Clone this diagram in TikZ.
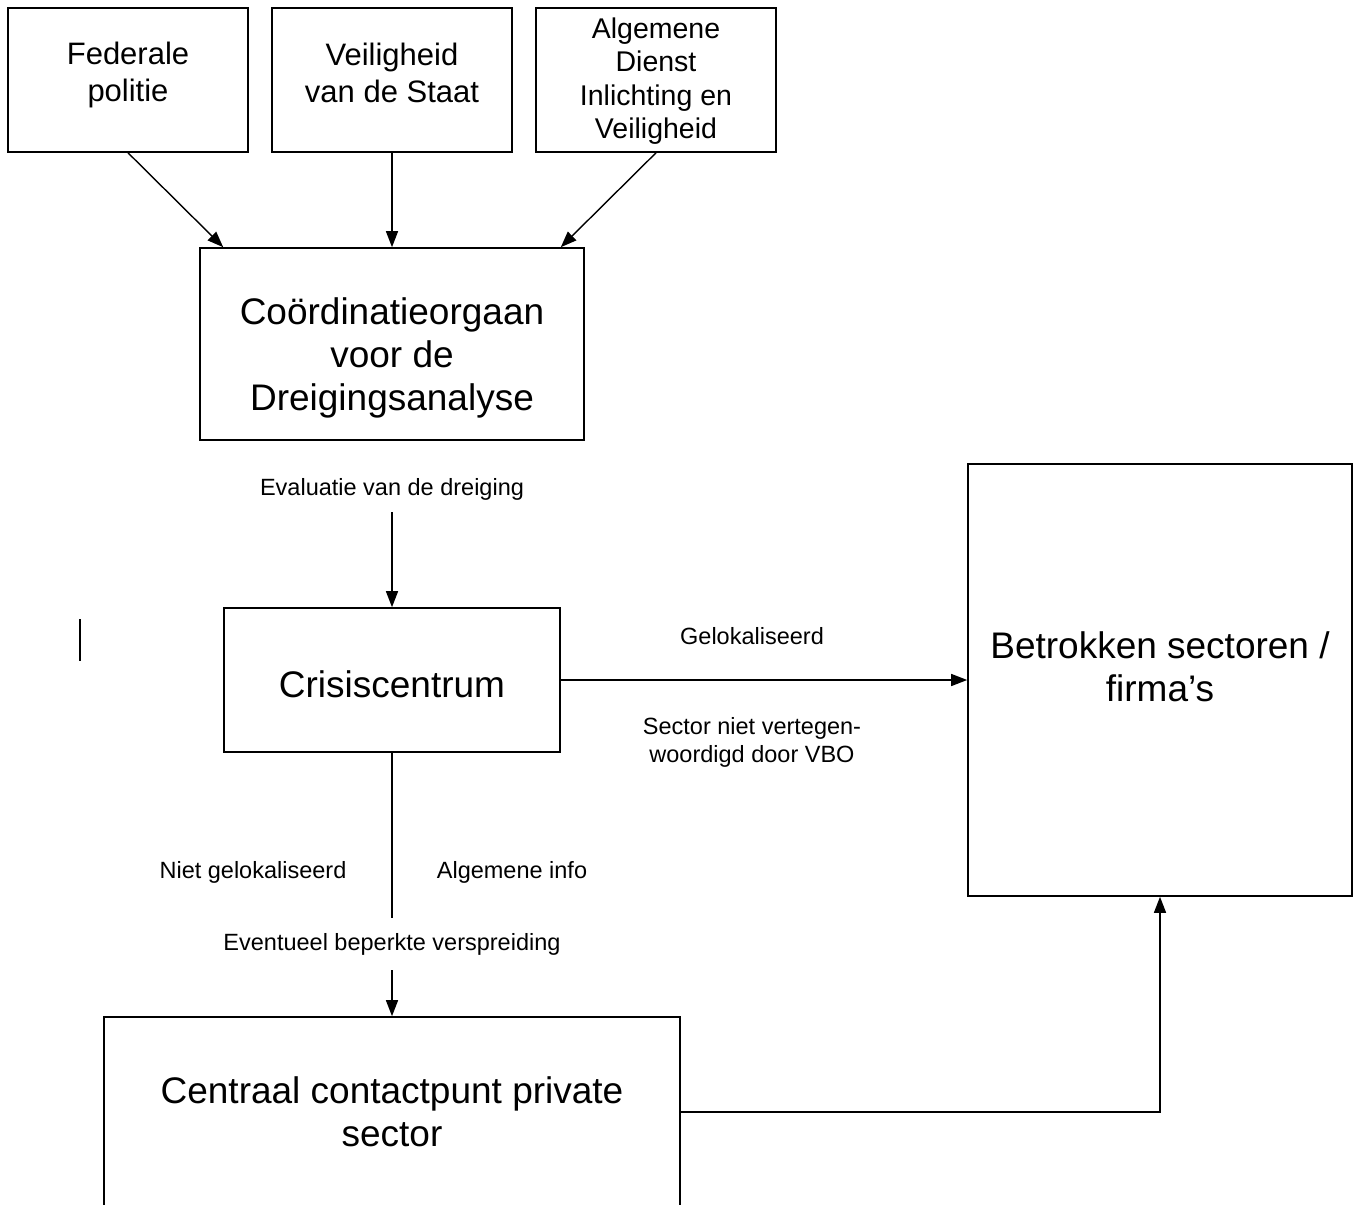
\documentclass[tikz,border=0pt]{standalone}
\usepackage{fontspec}
\setmainfont{Liberation Sans}
\usetikzlibrary{arrows.meta,calc}
\begin{document}
\begin{tikzpicture}[x=1pt,y=-1pt,
  box/.style={draw,line width=1.6pt,rectangle,inner sep=0pt},
  txt/.style={align=center,inner sep=0pt},
  bigtxt/.style={txt,font=\fontsize{37}{43}\selectfont},
  toptxt/.style={txt,font=\fontsize{31}{37}\selectfont},
  lbl/.style={txt,font=\fontsize{23.5}{28}\selectfont},
  conn/.style={line width=1.4pt},
  arr/.style={conn,-{Triangle[length=16pt,width=12pt]}}]
\useasboundingbox (0,0) rectangle (1355,1205);
\clip (0,0) rectangle (1355,1205);
% top boxes
\node[box,minimum width=240,minimum height=144] (fp) at (128,80) {};
\node[toptxt] (fpt) at (128,75) {Federale\\politie};
\node[box,minimum width=240,minimum height=144] (vs) at (392,80) {};
\node[toptxt] (vst) at (392,73) {Veiligheid\\van de Staat};
\node[box,minimum width=240,minimum height=144] (ad) at (656,80) {};
\node[txt,font=\fontsize{28.5}{33.5}\selectfont] (adt) at (656,81) {Algemene\\Dienst\\Inlichting en\\Veiligheid};
% coordination
\node[box,minimum width=384,minimum height=192] (co) at (392,344) {};
\node[bigtxt] (cot) at (392,358) {Coördinatieorgaan\\voor de\\Dreigingsanalyse};
% crisis
\node[box,minimum width=336,minimum height=144] (cr) at (392,680) {};
\node[bigtxt] (crt) at (392,684) {Crisiscentrum};
% betrokken
\node[box,minimum width=384,minimum height=432] (bs) at (1160,680) {};
\node[bigtxt] (bst) at (1160,667) {Betrokken sectoren /\\firma’s};
% centraal
\node[box,minimum width=576,minimum height=190,bigtxt] (cc) at (392,1112) {Centraal contactpunt private\\sector};
% top arrows
\coordinate (cofp) at ($(co.north west)+(24,0)$);
\coordinate (coad) at ($(co.north east)+(-24,0)$);
\draw[arr] (fp.south) -- (cofp);
\draw[arr] (vs.south) -- (co.north);
\draw[arr] (ad.south) -- (coad);
% evaluation
\node[lbl] (ev) at (392,489) {Evaluatie van de dreiging};
\coordinate (evb) at (392,512);
\draw[arr] (evb) -- (cr.north);
% crisis -> betrokken
\draw[arr] (cr.east) -- (bs.west |- cr.east);
\node[lbl] (gl) at (752,636) {Gelokaliseerd};
\node[lbl] (sn) at (752,742) {Sector niet vertegen-\\woordigd door VBO};
% crisis down
\coordinate (cd) at (392,918);
\draw[conn] (cr.south) -- (cd);
\node[lbl] (ng) at (253,872) {Niet gelokaliseerd};
\node[lbl] (ai) at (512,872) {Algemene info};
\node[lbl] (eb) at (392,944) {Eventueel beperkte verspreiding};
\coordinate (ebb) at (392,970);
\draw[arr] (ebb) -- (cc.north);
% centraal -> betrokken
\draw[arr] (cc.east) -| (bs.south);
% stray mark
\draw[line width=2.4pt] (80,619) -- (80,661);
\end{tikzpicture}
\end{document}
